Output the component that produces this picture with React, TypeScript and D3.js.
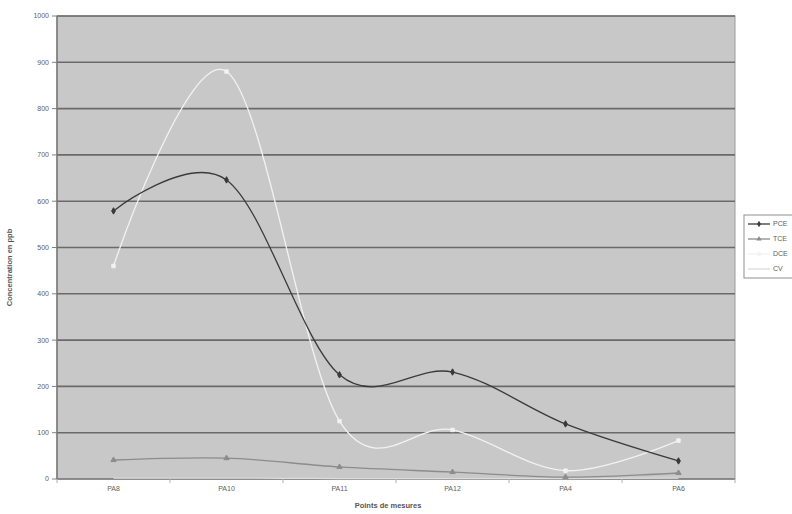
import React from 'react';
import * as d3 from 'd3';

const width = 792;
const height = 514;
const margin = { top: 16, right: 57, bottom: 35, left: 57 };

const points = ['PA8', 'PA10', 'PA11', 'PA12', 'PA4', 'PA6'];
const pce = [579, 646, 225, 231, 119, 39];
const tce = [41, 45, 26, 15, 4, 13];
const dce = [460, 880, 125, 106, 18, 83];
const cv = [2, 2, 1, 1, 1, 2];
const yTicks = [0, 100, 200, 300, 400, 500, 600, 700, 800, 900, 1000];

const series = [
    { name: 'PCE', values: pce, color: '#3a3a3a', marker: 'diamond' },
    { name: 'TCE', values: tce, color: '#8c8c8c', marker: 'triangle' },
    { name: 'DCE', values: dce, color: '#f2f2f2', marker: 'square' },
    { name: 'CV', values: cv, color: '#dcdcdc', marker: 'none' },
];

const App = () => {
    const x = d3.scaleBand<string>()
        .domain(points)
        .range([margin.left, width - margin.right]);
    const y = d3.scaleLinear()
        .domain([0, 1000])
        .range([height - margin.bottom, margin.top]);

    const cx = (p: string) => (x(p) as number) + x.bandwidth() / 2;
    const line = d3.line<number>()
        .x((_, i) => cx(points[i]))
        .y(d => y(d))
        .curve(d3.curveCardinal.tension(0));

    const symbolFor = (m: string) =>
        m === 'diamond' ? d3.symbolDiamond : m === 'triangle' ? d3.symbolTriangle : d3.symbolSquare;

    const x0 = margin.left;
    const x1 = width - margin.right;
    const yBottom = y(0);
    const font = 'Arial, "Liberation Sans", sans-serif';

    return (
        <svg width={width} height={height} style={{ position: 'absolute', left: 0, top: 0, background: '#fff' }}>
            <rect x={x0} y={margin.top} width={x1 - x0} height={yBottom - margin.top} fill="#c8c8c8" stroke="#9a9a9a" />
            {yTicks.map(t => (
                <g key={t}>
                    {t > 0 && <line x1={x0} x2={x1} y1={y(t)} y2={y(t)} stroke="#6a6a6a" strokeWidth={1.6} />}
                    <line x1={x0 - 5} x2={x0} y1={y(t)} y2={y(t)} stroke="#808080" />
                    <text x={x0 - 8} y={y(t)} dy="0.35em" textAnchor="end" fontSize={7} fill="#606060" fontFamily={font}>
                        {t}
                    </text>
                </g>
            ))}
            <line x1={x0} x2={x0} y1={margin.top} y2={yBottom} stroke="#7a7a7a" strokeWidth={1.5} />
            <line x1={x0} x2={x1} y1={yBottom} y2={yBottom} stroke="#7a7a7a" strokeWidth={1.5} />
            {points.map((p, i) => (
                <g key={p}>
                    <line x1={x(p) as number} x2={x(p) as number} y1={yBottom} y2={yBottom + 4} stroke="#b0b0b0" />
                    {i === points.length - 1 && (
                        <line x1={x1} x2={x1} y1={yBottom} y2={yBottom + 4} stroke="#b0b0b0" />
                    )}
                    <text x={cx(p)} y={yBottom + 12} textAnchor="middle" fontSize={7} fill="#606060" fontFamily={font}>
                        {p}
                    </text>
                </g>
            ))}
            {series.slice().reverse().map(s => (
                <g key={s.name}>
                    <path d={line(s.values) as string} fill="none" stroke={s.color} strokeWidth={1.3} />
                    {s.marker !== 'none' && s.values.map((v, i) => (
                        <path
                            key={i}
                            transform={`translate(${cx(points[i])},${y(v)})`}
                            d={d3.symbol().type(symbolFor(s.marker)).size(12)() as string}
                            fill={s.color}
                            stroke={s.color}
                        />
                    ))}
                </g>
            ))}
            <text
                transform={`translate(12,${(margin.top + yBottom) / 2 + 20}) rotate(-90)`}
                textAnchor="middle"
                fontSize={7.5}
                fontWeight="bold"
                fill="#555"
                fontFamily={font}
            >
                Concentration en ppb
            </text>
            <text x={388} y={508} textAnchor="middle" fontSize={7.5} fontWeight="bold" fill="#555" fontFamily={font}>
                Points de mesures
            </text>
            <g transform="translate(744,215)">
                <rect x={0} y={0} width={60} height={63} fill="#fff" stroke="#909090" />
                {series.map((s, i) => (
                    <g key={s.name} transform={`translate(0,${9 + i * 15})`}>
                        <line x1={4} x2={26} y1={0} y2={0} stroke={s.color} strokeWidth={1.3} />
                        {s.marker !== 'none' && (
                            <path
                                transform="translate(15,0)"
                                d={d3.symbol().type(symbolFor(s.marker)).size(12)() as string}
                                fill={s.color}
                            />
                        )}
                        <text x={29} y={0} dy="0.35em" fontSize={7} fill="#606060" fontFamily={font}>
                            {s.name}
                        </text>
                    </g>
                ))}
            </g>
        </svg>
    );
};

export default App;
